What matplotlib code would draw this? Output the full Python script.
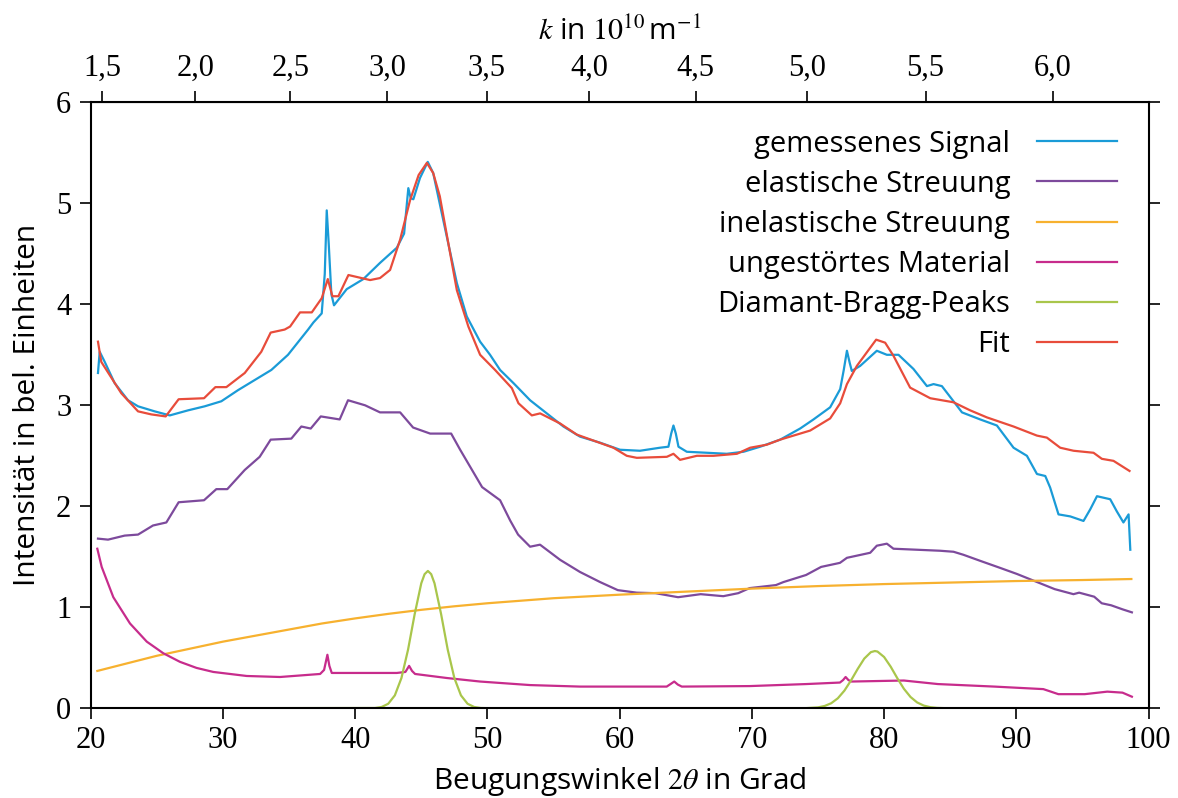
import numpy as np
import matplotlib
matplotlib.use('Agg')
from matplotlib import pyplot as plt
from matplotlib.ticker import FuncFormatter

# gemessenes Signal
blue_x = [20.55, 20.68, 21.06, 21.81, 22.82, 23.58, 24.84, 25.98, 27.36, 28.62,
          29.88, 31.14, 32.4, 33.66, 34.92, 36.44, 36.84, 37.47, 37.7, 37.85,
          38.0, 38.2, 38.4, 39.36, 40.62, 41.88, 43.15, 43.7, 44.02, 44.2,
          44.4, 44.9, 45.49, 45.9, 46.93, 47.69, 48.44, 49.45, 50.2, 50.96,
          51.97, 53.23, 54.49, 55.75, 57.0, 58.52, 60.03, 61.54, 63.05, 63.69,
          63.9, 64.07, 64.25, 64.45, 65.08, 66.6, 68.1, 69.37, 70.63, 72.14,
          73.65, 74.66, 75.92, 76.68, 76.95, 77.19, 77.4, 77.56, 78.19, 79.45,
          80.21, 81.09, 82.22, 83.24, 83.74, 84.37, 85.25, 85.89, 87.27, 88.53,
          89.79, 90.8, 91.56, 92.19, 92.56, 93.19, 94.08, 95.08, 95.59, 96.1,
          97.1, 97.6, 98.1, 98.49, 98.62]
blue_y = [3.32, 3.53, 3.43, 3.22, 3.05, 2.99, 2.94, 2.90, 2.95, 2.99,
          3.04, 3.15, 3.25, 3.35, 3.50, 3.75, 3.82, 3.91, 4.3, 4.93,
          4.6, 4.1, 3.99, 4.15, 4.25, 4.41, 4.56, 4.7, 5.15, 5.05,
          5.04, 5.25, 5.41, 5.3, 4.67, 4.21, 3.88, 3.63, 3.50, 3.35,
          3.22, 3.05, 2.92, 2.79, 2.69, 2.63, 2.56, 2.55, 2.58, 2.59,
          2.72, 2.80, 2.72, 2.59, 2.54, 2.53, 2.52, 2.54, 2.59, 2.66,
          2.77, 2.86, 2.98, 3.16, 3.35, 3.54, 3.42, 3.34, 3.39, 3.54,
          3.50, 3.50, 3.36, 3.19, 3.21, 3.19, 3.04, 2.93, 2.86, 2.80,
          2.58, 2.50, 2.32, 2.30, 2.185, 1.92, 1.90, 1.855, 1.97, 2.10,
          2.07, 1.95, 1.84, 1.92, 1.57]

# elastische Streuung
purple_x = [20.55, 21.31, 22.57, 23.58, 24.71, 25.72, 26.65, 28.57, 29.5, 30.33,
            31.65, 32.78, 33.61, 35.17, 35.93, 36.64, 37.4, 38.83, 39.46, 40.75,
            41.88, 43.4, 44.38, 45.67, 47.26, 47.94, 49.6, 50.96, 51.72, 52.32,
            53.23, 53.98, 55.5, 57.0, 58.52, 59.86, 61.29, 62.71, 64.42, 66.13,
            67.84, 68.97, 69.83, 71.82, 72.39, 74.1, 75.24, 76.66, 77.19, 78.95,
            79.45, 80.21, 80.71, 82.48, 84.24, 85.25, 86.0, 87.27, 88.78, 90.05,
            91.19, 92.9, 94.32, 94.75, 95.89, 96.46, 97.17, 98.03, 98.74]
purple_y = [1.68, 1.67, 1.71, 1.72, 1.81, 1.84, 2.04, 2.06, 2.17, 2.17,
            2.36, 2.49, 2.66, 2.67, 2.79, 2.77, 2.89, 2.86, 3.05, 3.0,
            2.93, 2.93, 2.78, 2.72, 2.72, 2.56, 2.19, 2.06, 1.86, 1.72,
            1.60, 1.62, 1.47, 1.35, 1.25, 1.17, 1.145, 1.14, 1.10, 1.13,
            1.11, 1.14, 1.19, 1.22, 1.25, 1.32, 1.40, 1.44, 1.49, 1.54,
            1.61, 1.63, 1.58, 1.57, 1.56, 1.55, 1.52, 1.46, 1.39, 1.33,
            1.27, 1.18, 1.13, 1.145, 1.105, 1.04, 1.02, 0.98, 0.95]

# inelastische Streuung
orange_x = [20.5, 22, 25, 27.5, 30, 32.5, 35, 37.5, 40, 42.5, 45, 47.5,
            50, 55, 60, 65, 70, 75, 80, 85, 90, 95, 98.7]
orange_y = [0.37, 0.42, 0.52, 0.59, 0.66, 0.72, 0.78, 0.84, 0.89, 0.935, 0.975, 1.01,
            1.04, 1.09, 1.125, 1.155, 1.185, 1.21, 1.23, 1.245, 1.26, 1.27, 1.28]

# ungestoertes Material
mag_x = [20.5, 20.83, 21.71, 22.97, 24.24, 25.49, 26.75, 28.0, 29.27, 31.8,
         34.32, 37.35, 37.65, 37.9, 38.05, 38.23, 40.62, 43.15, 43.8, 44.08,
         44.3, 44.53, 46.93, 49.45, 53.23, 57.01, 63.56, 63.85, 64.13, 64.4,
         64.7, 69.83, 74.1, 76.66, 76.9, 77.09, 77.3, 77.52, 81.5, 84.07,
         88.34, 92.04, 92.5, 93.18, 95.17, 96.88, 98.03, 98.74]
mag_y = [1.58, 1.40, 1.10, 0.84, 0.66, 0.545, 0.46, 0.40, 0.36, 0.32,
         0.31, 0.34, 0.38, 0.53, 0.42, 0.35, 0.35, 0.35, 0.36, 0.42,
         0.37, 0.34, 0.30, 0.265, 0.23, 0.215, 0.215, 0.24, 0.265, 0.235,
         0.215, 0.22, 0.24, 0.255, 0.28, 0.31, 0.28, 0.265, 0.275, 0.24,
         0.215, 0.19, 0.17, 0.14, 0.14, 0.165, 0.155, 0.115]

# Diamant-Bragg-Peaks
green_x = [20.5, 41.5, 42.0, 42.5, 43.0, 43.5, 44.0, 44.5, 45.0, 45.25, 45.5, 45.75,
           46.0, 46.5, 47.0, 47.5, 48.0, 48.5, 49.0, 49.5, 50.5,
           74.0, 75.0, 75.5, 76.0, 76.5, 77.0, 77.5, 78.0, 78.5, 79.0, 79.3, 79.5,
           80.0, 80.5, 81.0, 81.5, 82.0, 82.5, 83.0, 83.5, 84.0, 85.0, 98.7]
green_y = [0, 0.003, 0.013, 0.045, 0.128, 0.30, 0.581, 0.932, 1.238, 1.328, 1.36, 1.328,
           1.238, 0.932, 0.581, 0.30, 0.128, 0.045, 0.013, 0.003, 0,
           0.001, 0.009, 0.023, 0.050, 0.099, 0.175, 0.276, 0.389, 0.492, 0.556, 0.567, 0.562,
           0.508, 0.412, 0.298, 0.193, 0.112, 0.058, 0.027, 0.011, 0.004, 0, 0]

# Fit
red_x = [20.55, 20.8, 22.31, 23.58, 24.58, 25.67, 26.65, 28.57, 29.43, 30.26,
         31.65, 32.9, 33.61, 34.67, 35.08, 35.83, 36.72, 37.47, 37.93, 38.28,
         38.73, 39.49, 41.13, 41.88, 42.64, 43.4, 44.15, 44.8, 45.42, 45.9,
         46.4, 47.69, 48.56, 49.45, 50.58, 51.85, 52.35, 53.36, 53.99, 55.5,
         56.76, 59.53, 60.54, 61.3, 63.57, 64.07, 64.57, 65.84, 67.1, 68.87,
         69.87, 71.13, 72.14, 74.41, 75.92, 76.68, 77.19, 77.94, 79.4, 80.08,
         80.71, 81.97, 83.49, 85.25, 86.51, 87.78, 89.79, 91.56, 92.31, 93.32,
         94.33, 95.84, 96.47, 97.35, 98.56]
red_y = [3.63, 3.43, 3.12, 2.94, 2.91, 2.89, 3.06, 3.07, 3.18, 3.18,
         3.32, 3.53, 3.72, 3.75, 3.78, 3.92, 3.92, 4.06, 4.25, 4.08,
         4.08, 4.29, 4.24, 4.26, 4.34, 4.64, 5.03, 5.28, 5.40, 5.30,
         5.07, 4.14, 3.78, 3.50, 3.35, 3.17, 3.02, 2.90, 2.92, 2.82,
         2.71, 2.58, 2.50, 2.48, 2.49, 2.52, 2.46, 2.50, 2.50, 2.52,
         2.58, 2.61, 2.66, 2.75, 2.87, 3.02, 3.21, 3.39, 3.65, 3.62,
         3.49, 3.175, 3.07, 3.03, 2.95, 2.88, 2.79, 2.70, 2.68, 2.58,
         2.55, 2.53, 2.47, 2.45, 2.35]

k_ticks = [1.5, 2.0, 2.5, 3.0, 3.5, 4.0, 4.5, 5.0, 5.5, 6.0]
WAVELENGTH = 1.516  # in 1e-10 m

SANS = 'Open Sans'
SERIF = 'Liberation Serif'


def to_k(two_theta):
    return 4 * np.pi / WAVELENGTH * np.sin(np.radians(np.asarray(two_theta, dtype=float)) / 2)


def to_two_theta(k):
    s = np.clip(np.asarray(k, dtype=float) * WAVELENGTH / (4 * np.pi), -1, 1)
    return 2 * np.degrees(np.arcsin(s))


def comma(x, pos):
    return ('%.1f' % x).replace('.', ',')


plt.rcParams['font.family'] = SANS
plt.rcParams['mathtext.fontset'] = 'stix'

fig = plt.figure(figsize=(11.78, 7.98), dpi=100)
ax = fig.add_axes([0.077, 0.1124, 0.898, 0.7594])

lw = 1.6
ax.plot(blue_x, blue_y, color='#1a9bd7', lw=lw, label='gemessenes Signal')
ax.plot(purple_x, purple_y, color='#7d4a9c', lw=lw, label='elastische Streuung')
ax.plot(orange_x, orange_y, color='#f7b12f', lw=lw, label='inelastische Streuung')
ax.plot(mag_x, mag_y, color='#c72c8c', lw=lw, label='ungestörtes Material')
ax.plot(green_x, green_y, color='#a9c64b', lw=lw, label='Diamant-Bragg-Peaks')
ax.plot(red_x, red_y, color='#e84c3b', lw=lw, label='Fit')

ax.set_xlim(20, 100)
ax.set_ylim(0, 6)
ax.set_xticks(range(20, 101, 10))
ax.set_yticks(range(0, 7))
ax.tick_params(direction='out', length=8, width=1.2, labelsize=22, pad=5,
               right=True, top=False)
ax.tick_params(axis='y', pad=6)
for lab in ax.get_xticklabels() + ax.get_yticklabels():
    lab.set_family(SERIF)
for sp in ax.spines.values():
    sp.set_linewidth(1.5)

ax.set_xlabel(r'Beugungswinkel $2\theta$ in Grad', fontsize=21.5, labelpad=7)
ax.set_ylabel('Intensität in bel. Einheiten', fontsize=21.5, labelpad=10)

top = ax.secondary_xaxis('top', functions=(to_k, to_two_theta))
top.set_xticks(k_ticks)
top.xaxis.set_major_formatter(FuncFormatter(comma))
top.tick_params(direction='out', length=8, width=1.2, labelsize=22, pad=6)
for lab in top.get_xticklabels():
    lab.set_family(SERIF)
top.set_xlabel(r'$k$ in $10^{10}\,$m$^{-1}$', fontsize=21.5, labelpad=10)

ax.legend(loc='upper right', frameon=False, markerfirst=False, fontsize=21,
          handlelength=2.75, handletextpad=0.9, labelspacing=0.38,
          borderpad=0, borderaxespad=0, bbox_to_anchor=(0.970, 0.955))

fig.savefig('out.png', dpi=100)
